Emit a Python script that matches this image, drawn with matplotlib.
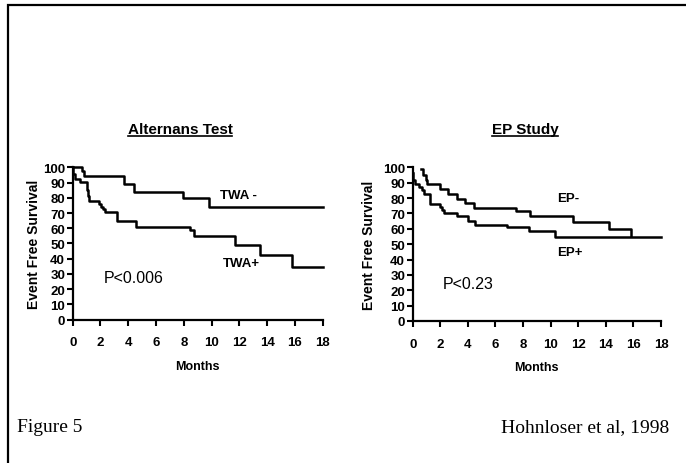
import matplotlib
matplotlib.use('Agg')
import matplotlib.pyplot as plt
from matplotlib.lines import Line2D
from matplotlib.patches import Rectangle

# Kaplan-Meier step data (months, % event free)
twa_neg_t = [0, 0.65, 0.84, 3.72, 4.44, 7.96, 9.8, 18]
twa_neg_v = [100, 97.7, 94, 89, 83.6, 79.6, 74.1, 74.1]
twa_pos_t = [0, 0.05, 0.15, 0.55, 1.0, 1.1, 1.2, 1.86, 2.05, 2.2, 2.34,
             3.18, 4.56, 8.45, 8.7, 11.7, 13.5, 15.8, 18]
twa_pos_v = [100, 95.5, 92.3, 90.4, 84.8, 81, 78, 75.8, 74, 72.5, 70.4,
             65, 61, 58.6, 54.6, 49, 42.5, 34.8, 34.8]

ep_neg_t = [0.58, 0.75, 0.99, 1.03, 1.96, 2.56, 3.19, 3.79, 4.46, 7.5,
            8.5, 11.6, 14.2, 15.8]
ep_neg_v = [99, 94.8, 91.5, 89.3, 85.7, 82.9, 79.6, 77, 73.2, 71.6,
            68, 64.1, 59.8, 55]
ep_pos_t = [0, 0.05, 0.15, 0.45, 0.7, 0.85, 1.23, 1.96, 2.1, 2.25, 3.19,
            4.03, 4.5, 6.8, 8.4, 10.3, 18]
ep_pos_v = [96, 92, 89.3, 87, 85, 82.5, 76.3, 74.2, 72.2, 70.4, 68,
            65.1, 62.3, 61.3, 58.7, 54.8, 54.8]

x_ticks = list(range(0, 19, 2))
y_ticks = list(range(0, 101, 10))

SANS = 'Liberation Sans'
SERIF = 'Liberation Serif'

fig = plt.figure(figsize=(6.86, 4.64), dpi=100)

# frame round the slide (right/bottom edges fall outside the picture)
fig.patches.append(Rectangle((8 / 686, -0.1), 1.2, 1.1 - 6 / 464,
                             transform=fig.transFigure, fill=False,
                             lw=1.6, ec='black'))


def km_panel(rect, title, title_x, curves, labels, pval, ylab_x):
    ax = fig.add_axes(rect)
    for t, v in curves:
        ax.step(t, v, where='post', color='black', lw=1.8, clip_on=False)
    ax.set_xlim(0, 18)
    ax.set_ylim(0, 100)
    ax.set_xticks(x_ticks)
    ax.set_yticks(y_ticks)
    for s in ('top', 'right'):
        ax.spines[s].set_visible(False)
    for s in ('left', 'bottom'):
        ax.spines[s].set_linewidth(1.6)
    ax.tick_params(axis='x', direction='out', length=4, width=1.5, pad=8)
    ax.tick_params(axis='y', direction='out', length=4, width=1.5, pad=1.5)
    for lab in ax.get_xticklabels() + ax.get_yticklabels():
        lab.set_fontfamily(SANS)
        lab.set_fontweight('bold')
        lab.set_fontsize(9.5)
    ax.set_ylabel('Event Free Survival', fontfamily=SANS, fontweight='bold',
                  fontsize=10)
    ax.yaxis.set_label_coords(ylab_x, 0.5)
    ax.set_xlabel('Months', fontfamily=SANS, fontweight='bold', fontsize=9)
    ax.xaxis.set_label_coords(0.5, -0.262)
    for (lx, ly, txt) in labels:
        ax.text(lx, ly, txt, fontfamily=SANS, fontweight='bold', fontsize=9.5,
                va='center', ha='left')
    ax.text(pval[0], pval[1], pval[2], fontfamily=SANS, fontsize=11.5,
            va='center', ha='left')
    ttl = fig.text(title_x, 1 - 130 / 464, title, fontfamily=SANS,
                   fontweight='bold', fontsize=11, ha='center', va='center')
    return ax, ttl


ax1, t1 = km_panel([72.7 / 686, 1 - 320.7 / 464, 250 / 686, 152.4 / 464],
                   'Alternans Test', 180 / 686,
                   [(twa_neg_t, twa_neg_v), (twa_pos_t, twa_pos_v)],
                   [(10.6, 81.8, 'TWA -'), (10.8, 37, 'TWA+')],
                   (2.2, 27.4, 'P<0.006'), -0.127)
ax2, t2 = km_panel([412.7 / 686, 1 - 322 / 464, 248.3 / 686, 153.7 / 464],
                   'EP Study', 525 / 686,
                   [(ep_neg_t, ep_neg_v), (ep_pos_t, ep_pos_v)],
                   [(10.5, 79.8, 'EP-'), (10.5, 44.7, 'EP+')],
                   (2.2, 24.7, 'P<0.23'), -0.148)

fig.text(17 / 686, 1 - 428 / 464, 'Figure 5', fontfamily=SERIF, fontsize=14,
         ha='left', va='center')
fig.text(669 / 686, 1 - 428 / 464, 'Hohnloser et al, 1998', fontfamily=SERIF,
         fontsize=14, ha='right', va='center')

# underline the two panel titles
fig.canvas.draw()
r = fig.canvas.get_renderer()
for t in (t1, t2):
    bb = t.get_window_extent(r).transformed(fig.transFigure.inverted())
    y = bb.y0 + 0.5 / 464
    fig.lines.append(Line2D([bb.x0, bb.x1], [y, y], transform=fig.transFigure,
                            color='black', lw=1.2))

fig.savefig('out.png', dpi=100)
